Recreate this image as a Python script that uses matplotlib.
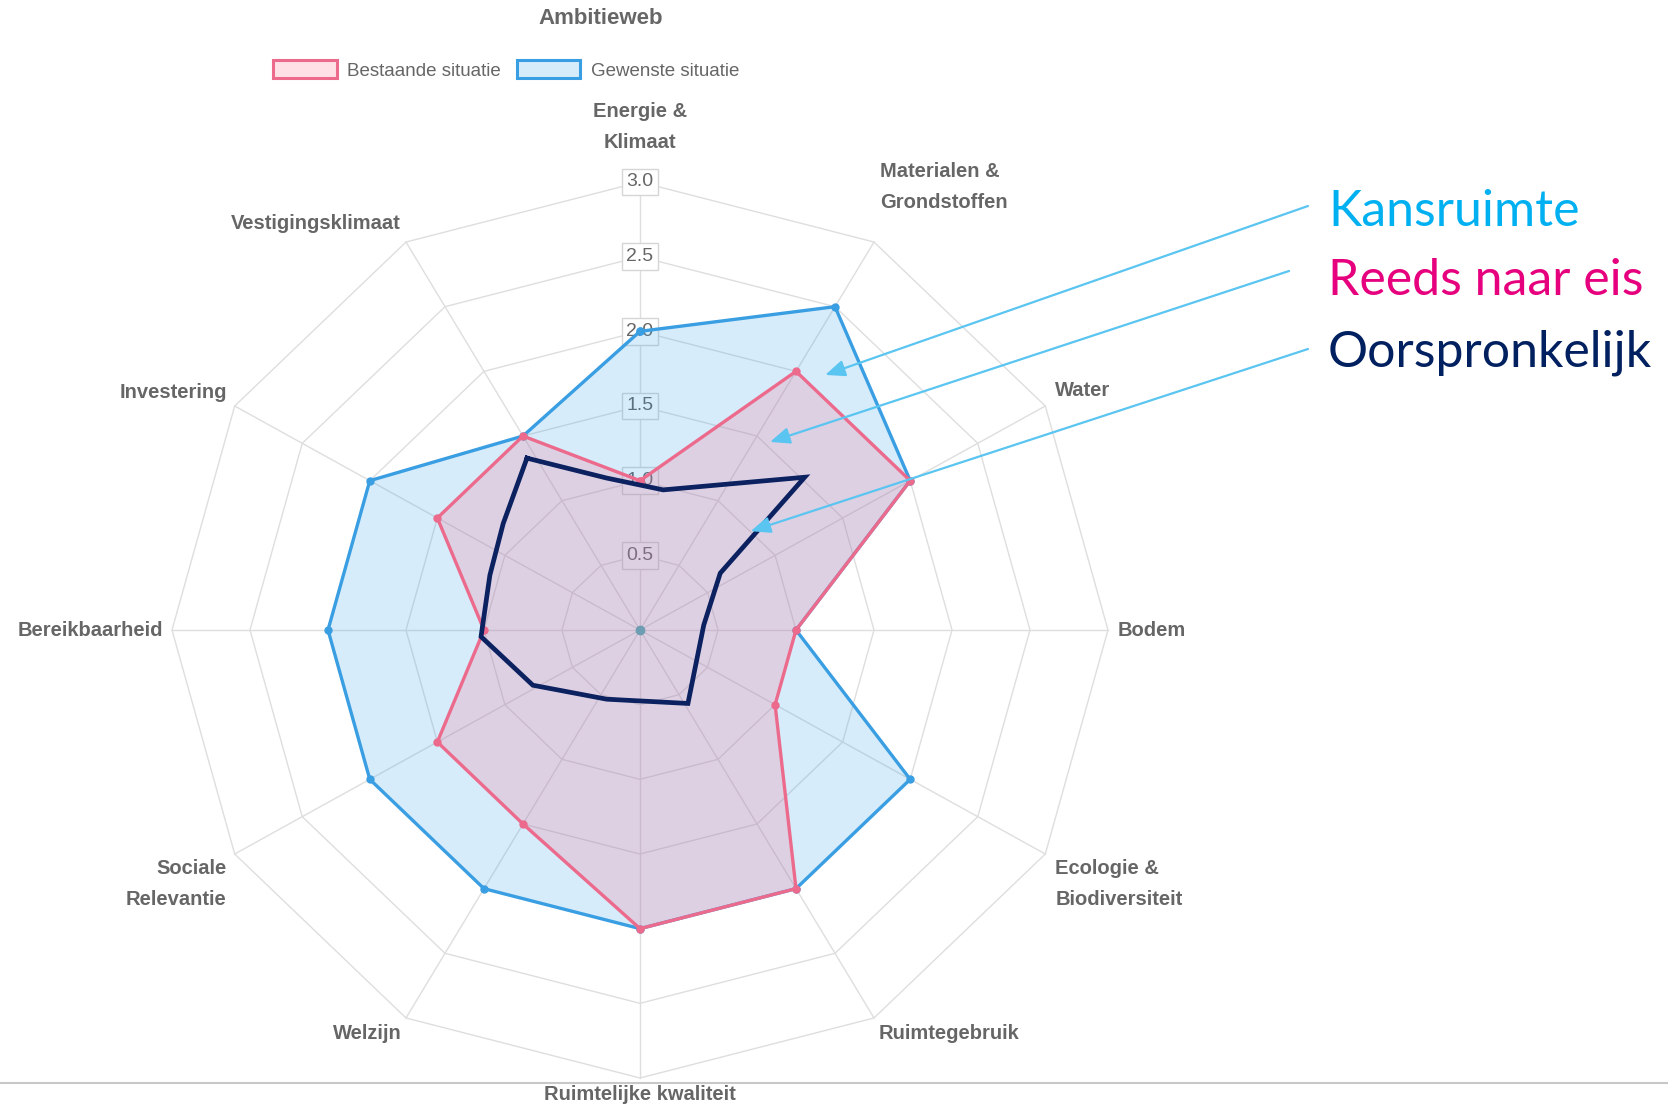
import numpy as np
import matplotlib
matplotlib.use("Agg")
import matplotlib.pyplot as plt
from matplotlib.patches import Patch
from matplotlib.lines import Line2D

plt.rcParams['font.family'] = ['Liberation Sans', 'DejaVu Sans']

# Data
categories = ["Energie &\nKlimaat", "Materialen &\nGrondstoffen", "Water", "Bodem",
              "Ecologie &\nBiodiversiteit", "Ruimtegebruik", "Ruimtelijke kwaliteit",
              "Welzijn", "Sociale\nRelevantie", "Bereikbaarheid", "Investering",
              "Vestigingsklimaat"]
bestaande = [1.0, 2.0, 2.0, 1.0, 1.0, 2.0, 2.0, 1.5, 1.5, 1.0, 1.5, 1.5]
gewenste = [2.0, 2.5, 2.0, 1.0, 2.0, 2.0, 2.0, 2.0, 2.0, 2.0, 2.0, 1.5]
tick_vals = [0.5, 1.0, 1.5, 2.0, 2.5, 3.0]
tick_labels = ["0.5", "1.0", "1.5", "2.0", "2.5", "3.0"]

# hand-drawn "Oorspronkelijk" outline (angle in degrees clockwise from top, radius)
orig_hoek = [327.8, 348.1, 9.0, 45.9, 53.5, 85.4, 148.0, 204.7, 241.7, 267.5, 290.9, 309.1]
orig_r = [1.36, 1.04, 0.95, 1.47, 0.64, 0.41, 0.58, 0.51, 0.78, 1.02, 1.03, 1.13]

# callouts on the right
notes = ["Kansruimte", "Reeds naar eis", "Oorspronkelijk"]
note_colors = ["#00B0F0", "#E6007E", "#002060"]
pijl_hoek = [34.8, 33.5, 47.0]
pijl_r = [2.08, 1.51, 0.97]

W, H = 1668, 1107
fig = plt.figure(figsize=(W / 100, H / 100), dpi=100)
ax = fig.add_axes([172 / W, 29 / H, 936 / W, 896 / H], projection='polar')
ax.set_aspect('auto')
ax.set_theta_zero_location('N')
ax.set_theta_direction(-1)
ax.set_ylim(0, 3)
ax.grid(False)
ax.set_xticks([])
ax.set_yticks([])
ax.spines['polar'].set_visible(False)
ax.patch.set_visible(False)

n = len(categories)
theta = np.arange(n) * 2 * np.pi / n
theta_c = np.append(theta, theta[0])

grid_col = '#dedede'
for r in tick_vals:
    ax.plot(theta_c, [r] * (n + 1), color=grid_col, lw=1.0, zorder=1, clip_on=False)
for t in theta:
    ax.plot([t, t], [0, 3], color=grid_col, lw=1.0, zorder=1, clip_on=False)

for r, lab in zip(tick_vals, tick_labels):
    ax.text(0, r, lab, ha='center', va='center', fontsize=14, color='#666666', zorder=1.5,
            bbox=dict(boxstyle='square,pad=0.25', fc='white', ec='#d6d6d6', lw=1.0))

blue = '#3A9EE2'
pink = '#EC6A8C'
gew_c = np.append(gewenste, gewenste[0])
bes_c = np.append(bestaande, bestaande[0])
ax.fill(theta_c, gew_c, color=(54 / 255, 162 / 255, 235 / 255, 0.2), zorder=2)
ax.fill(theta_c, bes_c, color=(255 / 255, 99 / 255, 132 / 255, 0.2), zorder=2.1)
ax.plot(theta_c, gew_c, color=blue, lw=2.4, marker='o', ms=5, zorder=3)
ax.plot(theta_c, bes_c, color=pink, lw=2.4, marker='o', ms=5, zorder=3.1)
ax.plot([0], [0], marker='o', ms=6, color='#6d9db3', zorder=3.2)

oh = np.deg2rad(np.append(orig_hoek, orig_hoek[0]))
orr = np.append(orig_r, orig_r[0])
ax.plot(oh, orr, color='#0B2160', lw=3.4, zorder=5, solid_joinstyle='miter')

# axis labels: (dx, dy) offset in pixels from outer vertex, alignment
lab_pos = [(0, 55, 'center'), (6, 55, 'left'), (10, 16, 'left'), (10, 0, 'left'),
           (10, -30, 'left'), (5, -16, 'left'), (0, -17, 'center'), (-4, -16, 'right'),
           (-8, -30, 'right'), (-9, 0, 'right'), (-8, 14, 'right'), (-5, 19, 'right')]
for t, lab, (dx, dy, ha) in zip(theta, categories, lab_pos):
    ax.annotate(lab, xy=(t, 3.0), xytext=(dx, dy), textcoords='offset pixels',
                ha=ha, va='center', multialignment=ha, fontsize=14.5, fontweight='bold',
                color='#666666', linespacing=1.75, annotation_clip=False)

fig.text(601 / W, 1 - 18 / H, "Ambitieweb", ha='center', va='center', fontsize=16,
         fontweight='bold', color='#666666')
handles = [Patch(facecolor=(1, 0.878, 0.902), edgecolor=pink, lw=2.2, label="Bestaande situatie"),
           Patch(facecolor=(0.843, 0.925, 0.984), edgecolor=blue, lw=2.2, label="Gewenste situatie")]
fig.legend(handles=handles, loc='center', bbox_to_anchor=(506 / W, 1 - 70 / H), ncol=2,
           frameon=False, fontsize=13.5, handlelength=3.4, handleheight=1.05,
           handletextpad=0.55, columnspacing=0.85, labelcolor='#666666')

fig.add_artist(Line2D([0, 1], [1 - 1083 / H] * 2, color='#c8c8c8', lw=1.5))

note_y = [226, 295, 366]
tail = [(1308, 206), (1289, 271), (1308, 349)]
for txt, col, y, (tx, ty), ph, pr in zip(notes, note_colors, note_y, tail, pijl_hoek, pijl_r):
    fig.text(1328 / W, 1 - y / H, txt, ha='left', va='baseline', fontsize=36,
             family=['Lato', 'DejaVu Sans'], color=col)
    ax.annotate('', xy=(np.deg2rad(ph), pr), xycoords='data', xytext=(tx, H - ty),
                textcoords='figure pixels', annotation_clip=False, zorder=6,
                arrowprops=dict(arrowstyle='-|>,head_length=0.6,head_width=0.25',
                                color='#5BC5F1', lw=1.6, shrinkA=0, shrinkB=0,
                                mutation_scale=20))

fig.savefig("out.png", dpi=100)
